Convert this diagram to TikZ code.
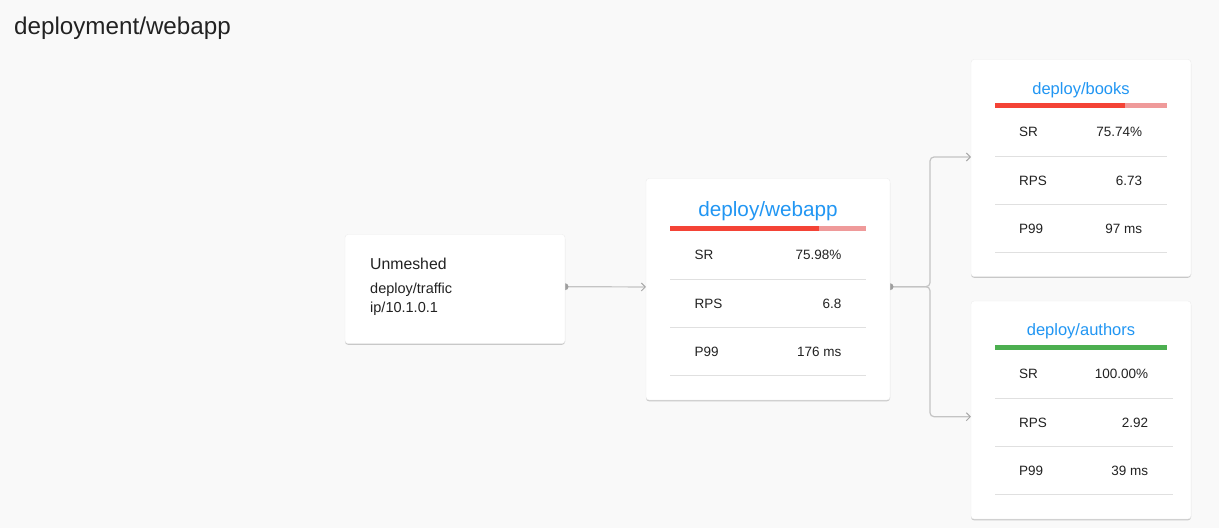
\documentclass[tikz,border=0pt]{standalone}
\usepackage{fontspec}
\setmainfont{Liberation Sans}
\usetikzlibrary{arrows.meta,shadows}
\definecolor{bgc}{HTML}{F9F9F9}
\definecolor{txt}{HTML}{222222}
\definecolor{ttl}{HTML}{2196F3}
\definecolor{barred}{HTML}{F44336}
\definecolor{barpink}{HTML}{EF9A9A}
\definecolor{bargreen}{HTML}{4CAF50}
\definecolor{sepc}{HTML}{E0E0E0}
\definecolor{linec}{HTML}{C4C4C4}
\definecolor{arrc}{HTML}{A8A8A8}
\definecolor{dotc}{HTML}{9E9E9E}
\newcommand\fsz[1]{\fontsize{#1}{#1}\selectfont}
\pgfdeclarelayer{bg}
\pgfsetlayers{bg,main}
\begin{document}
\begin{tikzpicture}[x=1pt,y=-1pt,
  card/.style={draw=black!7, line width=0.4pt, fill=white, rounded corners=3pt,
    drop shadow={shadow xshift=0pt, shadow yshift=-1.3pt, opacity=0.28, fill=black!70},
    inner sep=0pt, outer sep=0pt},
  plain/.style={inner sep=0pt, text=txt},
  lbl/.style={plain, anchor=base west, font=\fsz{13.5}},
  val/.style={plain, anchor=base east, font=\fsz{13.5}},
  ctitle/.style={inner sep=0pt, anchor=base, text=ttl},
  sep/.style={draw=sepc, line width=1pt},
  conn/.style={draw=linec, line width=1.2pt, rounded corners=4pt,
    -{Straight Barb[length=4pt,width=8pt,line width=1pt,color=arrc]}},
  portdot/.style={fill=dotc}
]
\useasboundingbox (0,0) rectangle (1219,528);

% cards
\node[card, minimum width=220pt, minimum height=109pt] (unm) at (455,289) {};
\node[card, minimum width=244pt, minimum height=221.5pt] (web) at (768,289.25) {};
\node[card, minimum width=220pt, minimum height=217pt] (books) at (1081,168) {};
\node[card, minimum width=220pt, minimum height=218pt] (auth) at (1081,410) {};

% title
\node[plain, anchor=base west, font=\fsz{24.2}] (title) at (14,34.3) {deployment/webapp};

% unmeshed text
\node[plain, anchor=base west, font=\fsz{15.8}] (u1) at (370,269.3) {Unmeshed};
\node[plain, anchor=base west, font=\fsz{14.5}] (u2) at (370,293.3) {deploy/traffic};
\node[plain, anchor=base west, font=\fsz{14.5}] (u3) at (370,312.7) {ip/10.1.0.1};

% webapp
\node[ctitle, font=\fsz{20.7}] (wt) at (768,216.7) {deploy/webapp};
\fill[barred] (670,226) rectangle (819,231);
\fill[barpink] (819,226) rectangle (866,231);
\node[lbl] (wl1) at (694.3,259.3) {SR};
\node[val] (wv1) at (841.7,259.3) {75.98\%};
\draw[sep] (670,279.3) -- (866,279.3);
\node[lbl] (wl2) at (694.3,308.3) {RPS};
\node[val] (wv2) at (841.7,308.3) {6.8};
\draw[sep] (670,327.3) -- (866,327.3);
\node[lbl] (wl3) at (694.3,356) {P99};
\node[val] (wv3) at (841.7,356) {176 ms};
\draw[sep] (670,375) -- (866,375);

% books
\node[ctitle, font=\fsz{16.5}] (bt) at (1081,94) {deploy/books};
\fill[barred] (995,102.7) rectangle (1125.3,107.7);
\fill[barpink] (1125.3,102.7) rectangle (1167,107.7);
\node[lbl] (bl1) at (1019,136) {SR};
\node[val] (bv1) at (1142.3,136) {75.74\%};
\draw[sep] (995,156.3) -- (1167,156.3);
\node[lbl] (bl2) at (1019,185) {RPS};
\node[val] (bv2) at (1142.3,185) {6.73};
\draw[sep] (995,204.3) -- (1167,204.3);
\node[lbl] (bl3) at (1019,233.3) {P99};
\node[val] (bv3) at (1142.3,233.3) {97 ms};
\draw[sep] (995,252.3) -- (1167,252.3);

% authors
\node[ctitle, font=\fsz{16.5}] (at) at (1081,335.7) {deploy/authors};
\fill[bargreen] (995,345) rectangle (1167,350);
\node[lbl] (al1) at (1019,378.3) {SR};
\node[val] (av1) at (1148.3,378.3) {100.00\%};
\draw[sep] (995,398.3) -- (1172.7,398.3);
\node[lbl] (al2) at (1019,427.3) {RPS};
\node[val] (av2) at (1148.3,427.3) {2.92};
\draw[sep] (995,446.3) -- (1172.7,446.3);
\node[lbl] (al3) at (1019,475) {P99};
\node[val] (av3) at (1148.3,475) {39 ms};
\draw[sep] (995,494.3) -- (1172.7,494.3);

% background and connectors
\begin{pgfonlayer}{bg}
\fill[bgc] (0,0) rectangle (1219,528);
\coordinate (split) at (930,286.7);
\draw[conn] ([yshift=2.3pt]unm.east) -- ([yshift=2.3pt]web.west);
\draw[conn] ([yshift=2.55pt]web.east) -- (split) |- ([yshift=11pt]books.west);
\draw[conn] ([yshift=2.55pt]web.east) -- (split) |- ([yshift=-6.7pt]auth.west);
\fill[portdot] ([yshift=2.3pt]unm.east) circle (3.5pt);
\fill[portdot] ([yshift=2.55pt]web.east) circle (3.5pt);
\end{pgfonlayer}
\end{tikzpicture}
\end{document}
